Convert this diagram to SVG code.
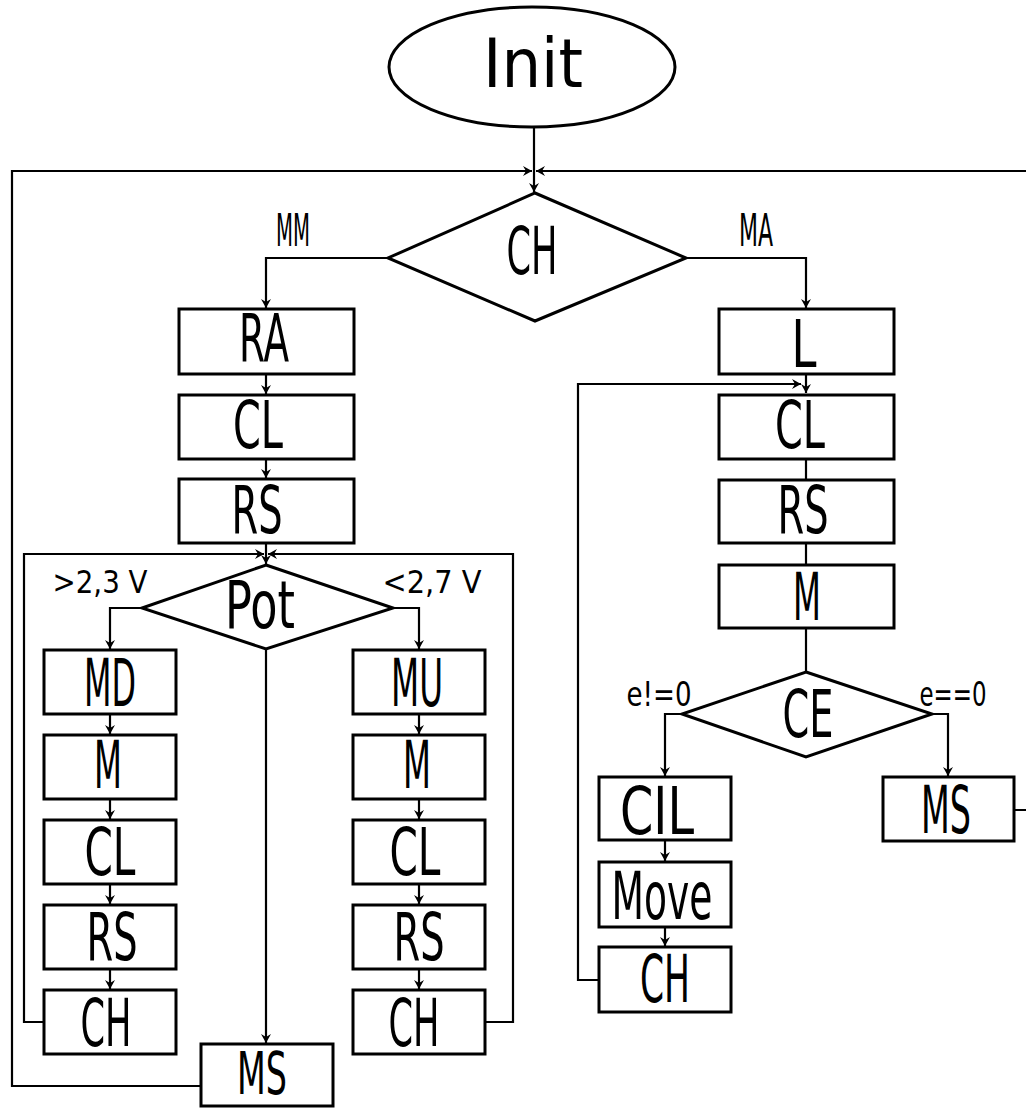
<svg xmlns="http://www.w3.org/2000/svg" width="1026" height="1108" viewBox="0 0 1026 1108">
<style>
.box{fill:#fff;stroke:#000;stroke-width:3}
.c{fill:none;stroke:#000;stroke-width:2.2}
.t{font-family:"DejaVu Sans","Liberation Sans",sans-serif;font-size:66px;text-anchor:middle;fill:#000}
.l{font-family:"DejaVu Sans","Liberation Sans",sans-serif;font-size:33px;text-anchor:middle;fill:#000}
</style>
<defs>
<marker id="a" markerUnits="userSpaceOnUse" markerWidth="14" markerHeight="14" viewBox="-11 -7 14 14" refX="0" refY="0" orient="auto">
<path d="M0,0 L-9,-5 L-6,0 L-9,5 z" fill="#000"/>
</marker>
</defs>
<rect width="1026" height="1108" fill="#fff"/>
<g id="connectors">
<path class="c" d="M534,127 V192" marker-end="url(#a)"/>
<path class="c" d="M201,1086 H12 V171 H532" marker-end="url(#a)"/>
<path class="c" d="M1014,810 H1040 V171 H536" marker-end="url(#a)"/>
<path class="c" d="M388,258 H266 V308" marker-end="url(#a)"/>
<path class="c" d="M686,258 H806 V308" marker-end="url(#a)"/>
<path class="c" d="M266,374 V394" marker-end="url(#a)"/>
<path class="c" d="M266,459 V478" marker-end="url(#a)"/>
<path class="c" d="M266,543 V564" marker-end="url(#a)"/>
<path class="c" d="M44,1022 H24 V554 H264" marker-end="url(#a)"/>
<path class="c" d="M485,1022 H513 V554 H268" marker-end="url(#a)"/>
<path class="c" d="M142,608 H110 V649" marker-end="url(#a)"/>
<path class="c" d="M393,608 H419 V649" marker-end="url(#a)"/>
<path class="c" d="M266,649 V1043" marker-end="url(#a)"/>
<path class="c" d="M110,714 V734" marker-end="url(#a)"/>
<path class="c" d="M110,799 V819" marker-end="url(#a)"/>
<path class="c" d="M110,884 V904" marker-end="url(#a)"/>
<path class="c" d="M110,969 V989" marker-end="url(#a)"/>
<path class="c" d="M419,714 V734" marker-end="url(#a)"/>
<path class="c" d="M419,799 V819" marker-end="url(#a)"/>
<path class="c" d="M419,884 V904" marker-end="url(#a)"/>
<path class="c" d="M419,969 V989" marker-end="url(#a)"/>
<path class="c" d="M806,374 V393" marker-end="url(#a)"/>
<path class="c" d="M599,980 H578 V384 H801" marker-end="url(#a)"/>
<path class="c" d="M806,459 V480"/>
<path class="c" d="M806,543 V565"/>
<path class="c" d="M806,628 V672"/>
<path class="c" d="M682,714 H665 V776" marker-end="url(#a)"/>
<path class="c" d="M932,714 H948 V776" marker-end="url(#a)"/>
<path class="c" d="M665,840 V861" marker-end="url(#a)"/>
<path class="c" d="M665,927 V946" marker-end="url(#a)"/>
</g>
<g id="labels">
<text class="l" x="293" y="246" style="font-size:44px" textLength="34" lengthAdjust="spacingAndGlyphs">MM</text>
<text class="l" x="756" y="246" style="font-size:44px" textLength="34" lengthAdjust="spacingAndGlyphs">MA</text>
<text class="l" x="100" y="593" style="font-size:32px" textLength="95" lengthAdjust="spacingAndGlyphs">&gt;2,3 V</text>
<text class="l" x="432" y="593" style="font-size:32px" textLength="99" lengthAdjust="spacingAndGlyphs">&lt;2,7 V</text>
<text class="l" x="659" y="706" textLength="65" lengthAdjust="spacingAndGlyphs">e!=0</text>
<text class="l" x="953" y="706" textLength="67" lengthAdjust="spacingAndGlyphs">e==0</text>
</g>
<g id="init"><ellipse class="box" cx="532" cy="67" rx="143" ry="60"/><text class="t" x="533" y="87" style="font-size:68px" textLength="100" lengthAdjust="spacingAndGlyphs">Init</text></g>
<g id="ch-decision"><polygon class="box" points="535,193 686,258 535,321 388,258"/><text class="t" x="532" y="274" textLength="51" lengthAdjust="spacingAndGlyphs">CH</text></g>
<g id="ra"><rect class="box" x="179" y="309" width="175" height="65"/><text class="t" x="264" y="361" textLength="50" lengthAdjust="spacingAndGlyphs">RA</text></g>
<g id="cl1"><rect class="box" x="179" y="395" width="175" height="64"/><text class="t" x="258" y="448" textLength="50" lengthAdjust="spacingAndGlyphs">CL</text></g>
<g id="rs1"><rect class="box" x="179" y="479" width="175" height="64"/><text class="t" x="257" y="533" textLength="51" lengthAdjust="spacingAndGlyphs">RS</text></g>
<g id="pot"><polygon class="box" points="266,565 393,608 266,649 142,608"/><text class="t" x="260" y="628" textLength="70" lengthAdjust="spacingAndGlyphs">Pot</text></g>
<g id="md"><rect class="box" x="44" y="650" width="132" height="64"/><text class="t" x="110" y="706" textLength="52" lengthAdjust="spacingAndGlyphs">MD</text></g>
<g id="m-left"><rect class="box" x="44" y="735" width="132" height="64"/><text class="t" x="108" y="788" textLength="28" lengthAdjust="spacingAndGlyphs">M</text></g>
<g id="cl-left"><rect class="box" x="44" y="820" width="132" height="64"/><text class="t" x="110" y="875" textLength="51" lengthAdjust="spacingAndGlyphs">CL</text></g>
<g id="rs-left"><rect class="box" x="44" y="905" width="132" height="64"/><text class="t" x="112" y="960" textLength="51" lengthAdjust="spacingAndGlyphs">RS</text></g>
<g id="ch-left"><rect class="box" x="44" y="990" width="132" height="64"/><text class="t" x="106" y="1046" textLength="51" lengthAdjust="spacingAndGlyphs">CH</text></g>
<g id="mu"><rect class="box" x="353" y="650" width="132" height="64"/><text class="t" x="417" y="706" textLength="52" lengthAdjust="spacingAndGlyphs">MU</text></g>
<g id="m-right"><rect class="box" x="353" y="735" width="132" height="64"/><text class="t" x="417" y="788" textLength="28" lengthAdjust="spacingAndGlyphs">M</text></g>
<g id="cl-right"><rect class="box" x="353" y="820" width="132" height="64"/><text class="t" x="415" y="875" textLength="51" lengthAdjust="spacingAndGlyphs">CL</text></g>
<g id="rs-right"><rect class="box" x="353" y="905" width="132" height="64"/><text class="t" x="419" y="960" textLength="51" lengthAdjust="spacingAndGlyphs">RS</text></g>
<g id="ch-right"><rect class="box" x="353" y="990" width="132" height="64"/><text class="t" x="414" y="1046" textLength="51" lengthAdjust="spacingAndGlyphs">CH</text></g>
<g id="ms-bottom"><rect class="box" x="201" y="1044" width="132" height="62"/><text class="t" x="262" y="1094" style="font-size:58px" textLength="50" lengthAdjust="spacingAndGlyphs">MS</text></g>
<g id="l"><rect class="box" x="719" y="309" width="175" height="65"/><text class="t" x="804" y="367" textLength="25" lengthAdjust="spacingAndGlyphs">L</text></g>
<g id="cl2"><rect class="box" x="719" y="395" width="175" height="64"/><text class="t" x="800" y="448" textLength="50" lengthAdjust="spacingAndGlyphs">CL</text></g>
<g id="rs2"><rect class="box" x="719" y="480" width="175" height="63"/><text class="t" x="803" y="533" textLength="51" lengthAdjust="spacingAndGlyphs">RS</text></g>
<g id="m2"><rect class="box" x="719" y="565" width="175" height="63"/><text class="t" x="807" y="620" textLength="28" lengthAdjust="spacingAndGlyphs">M</text></g>
<g id="ce"><polygon class="box" points="806,672 932,714 806,757 682,714"/><text class="t" x="808" y="737" textLength="51" lengthAdjust="spacingAndGlyphs">CE</text></g>
<g id="cil"><rect class="box" x="599" y="777" width="132" height="63"/><text class="t" x="657" y="834" textLength="74" lengthAdjust="spacingAndGlyphs">CIL</text></g>
<g id="ms-right"><rect class="box" x="883" y="777" width="131" height="64"/><text class="t" x="946" y="833" textLength="50" lengthAdjust="spacingAndGlyphs">MS</text></g>
<g id="move"><rect class="box" x="599" y="862" width="132" height="65"/><text class="t" x="662" y="919" textLength="101" lengthAdjust="spacingAndGlyphs">Move</text></g>
<g id="ch3"><rect class="box" x="599" y="947" width="132" height="65"/><text class="t" x="665" y="1002" textLength="50" lengthAdjust="spacingAndGlyphs">CH</text></g>
</svg>
